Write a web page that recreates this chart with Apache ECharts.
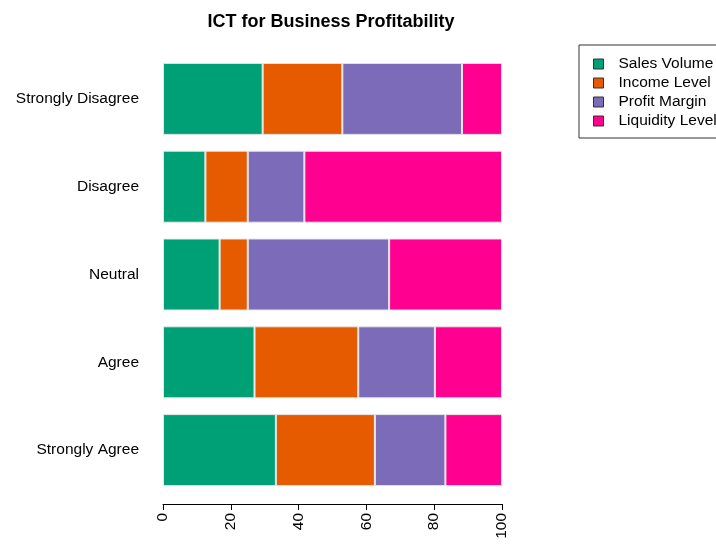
<!DOCTYPE html>
<html>
<head>
<meta charset="utf-8">
<script src="https://cdn.jsdelivr.net/npm/echarts@6/dist/echarts.min.js"></script>
<style>
  html, body { margin: 0; padding: 0; background: #fff; }
  #main { width: 716px; height: 546px; }
</style>
</head>
<body>
<div id="main"></div>
<script>
// categories, bottom to top as drawn
var categories = ['Strongly Agree', 'Agree', 'Neutral', 'Disagree', 'Strongly Disagree'];
var seriesNames = ['Sales Volume', 'Income Level', 'Profit Margin', 'Liquidity Level'];
// percentages per category (same order as categories)
var salesVolume = [33.3, 27.0, 16.7, 12.5, 29.4];
var incomeLevel = [29.2, 30.6, 8.3, 12.5, 23.5];
var profitMargin = [20.8, 22.6, 41.7, 16.7, 35.3];
var liquidityLevel = [16.7, 19.8, 33.3, 58.3, 11.8];
var xTicks = [0, 20, 40, 60, 80, 100];

var colors = ['#00A077', '#E65A00', '#7B6BB9', '#FF0090'];
var values = [salesVolume, incomeLevel, profitMargin, liquidityLevel];

var chart = echarts.init(document.getElementById('main'));
var font = 'Liberation Sans, Arial, sans-serif';

var option = {
  animation: false,
  color: colors,
  title: {
    text: 'ICT for Business Profitability',
    left: 326,
    textAlign: 'center',
    top: 8,
    textStyle: { fontFamily: font, fontSize: 18, fontWeight: 'bold', color: '#000' }
  },
  legend: {
    orient: 'vertical',
    left: 579,
    top: 45,
    width: 200,
    padding: [11, 20, 9, 14],
    itemGap: 3,
    itemWidth: 10,
    itemHeight: 10,
    borderColor: '#333',
    borderWidth: 1,
    borderRadius: 0,
    icon: 'rect',
    itemStyle: { borderColor: '#333', borderWidth: 1 },
    textStyle: { fontFamily: font, fontSize: 15.5, lineHeight: 16, color: '#000', padding: [0, 0, 0, 10] },
    data: seriesNames
  },
  grid: { left: 163, right: 214, top: 55, bottom: 52 },
  xAxis: {
    type: 'value',
    min: 0,
    max: 100,
    interval: 20,
    offset: 10,
    splitLine: { show: false },
    axisLine: { show: true, lineStyle: { color: '#000', width: 1 } },
    axisTick: { show: true, length: 6, lineStyle: { color: '#000' } },
    axisLabel: {
      rotate: 90,
      fontFamily: font,
      fontSize: 15.5,
      color: '#000',
      margin: 9,
      customValues: xTicks
    }
  },
  yAxis: {
    type: 'category',
    data: categories,
    axisLine: { show: false },
    axisTick: { show: false },
    axisLabel: { fontFamily: font, fontSize: 15.5, color: '#000', margin: 24 }
  },
  series: seriesNames.map(function (name, i) {
    return {
      name: name,
      type: 'bar',
      stack: 'total',
      barCategoryGap: '18%',
      data: values[i],
      itemStyle: { color: colors[i], borderColor: '#e6e6e6', borderWidth: 1 }
    };
  })
};

chart.setOption(option);
</script>
</body>
</html>
